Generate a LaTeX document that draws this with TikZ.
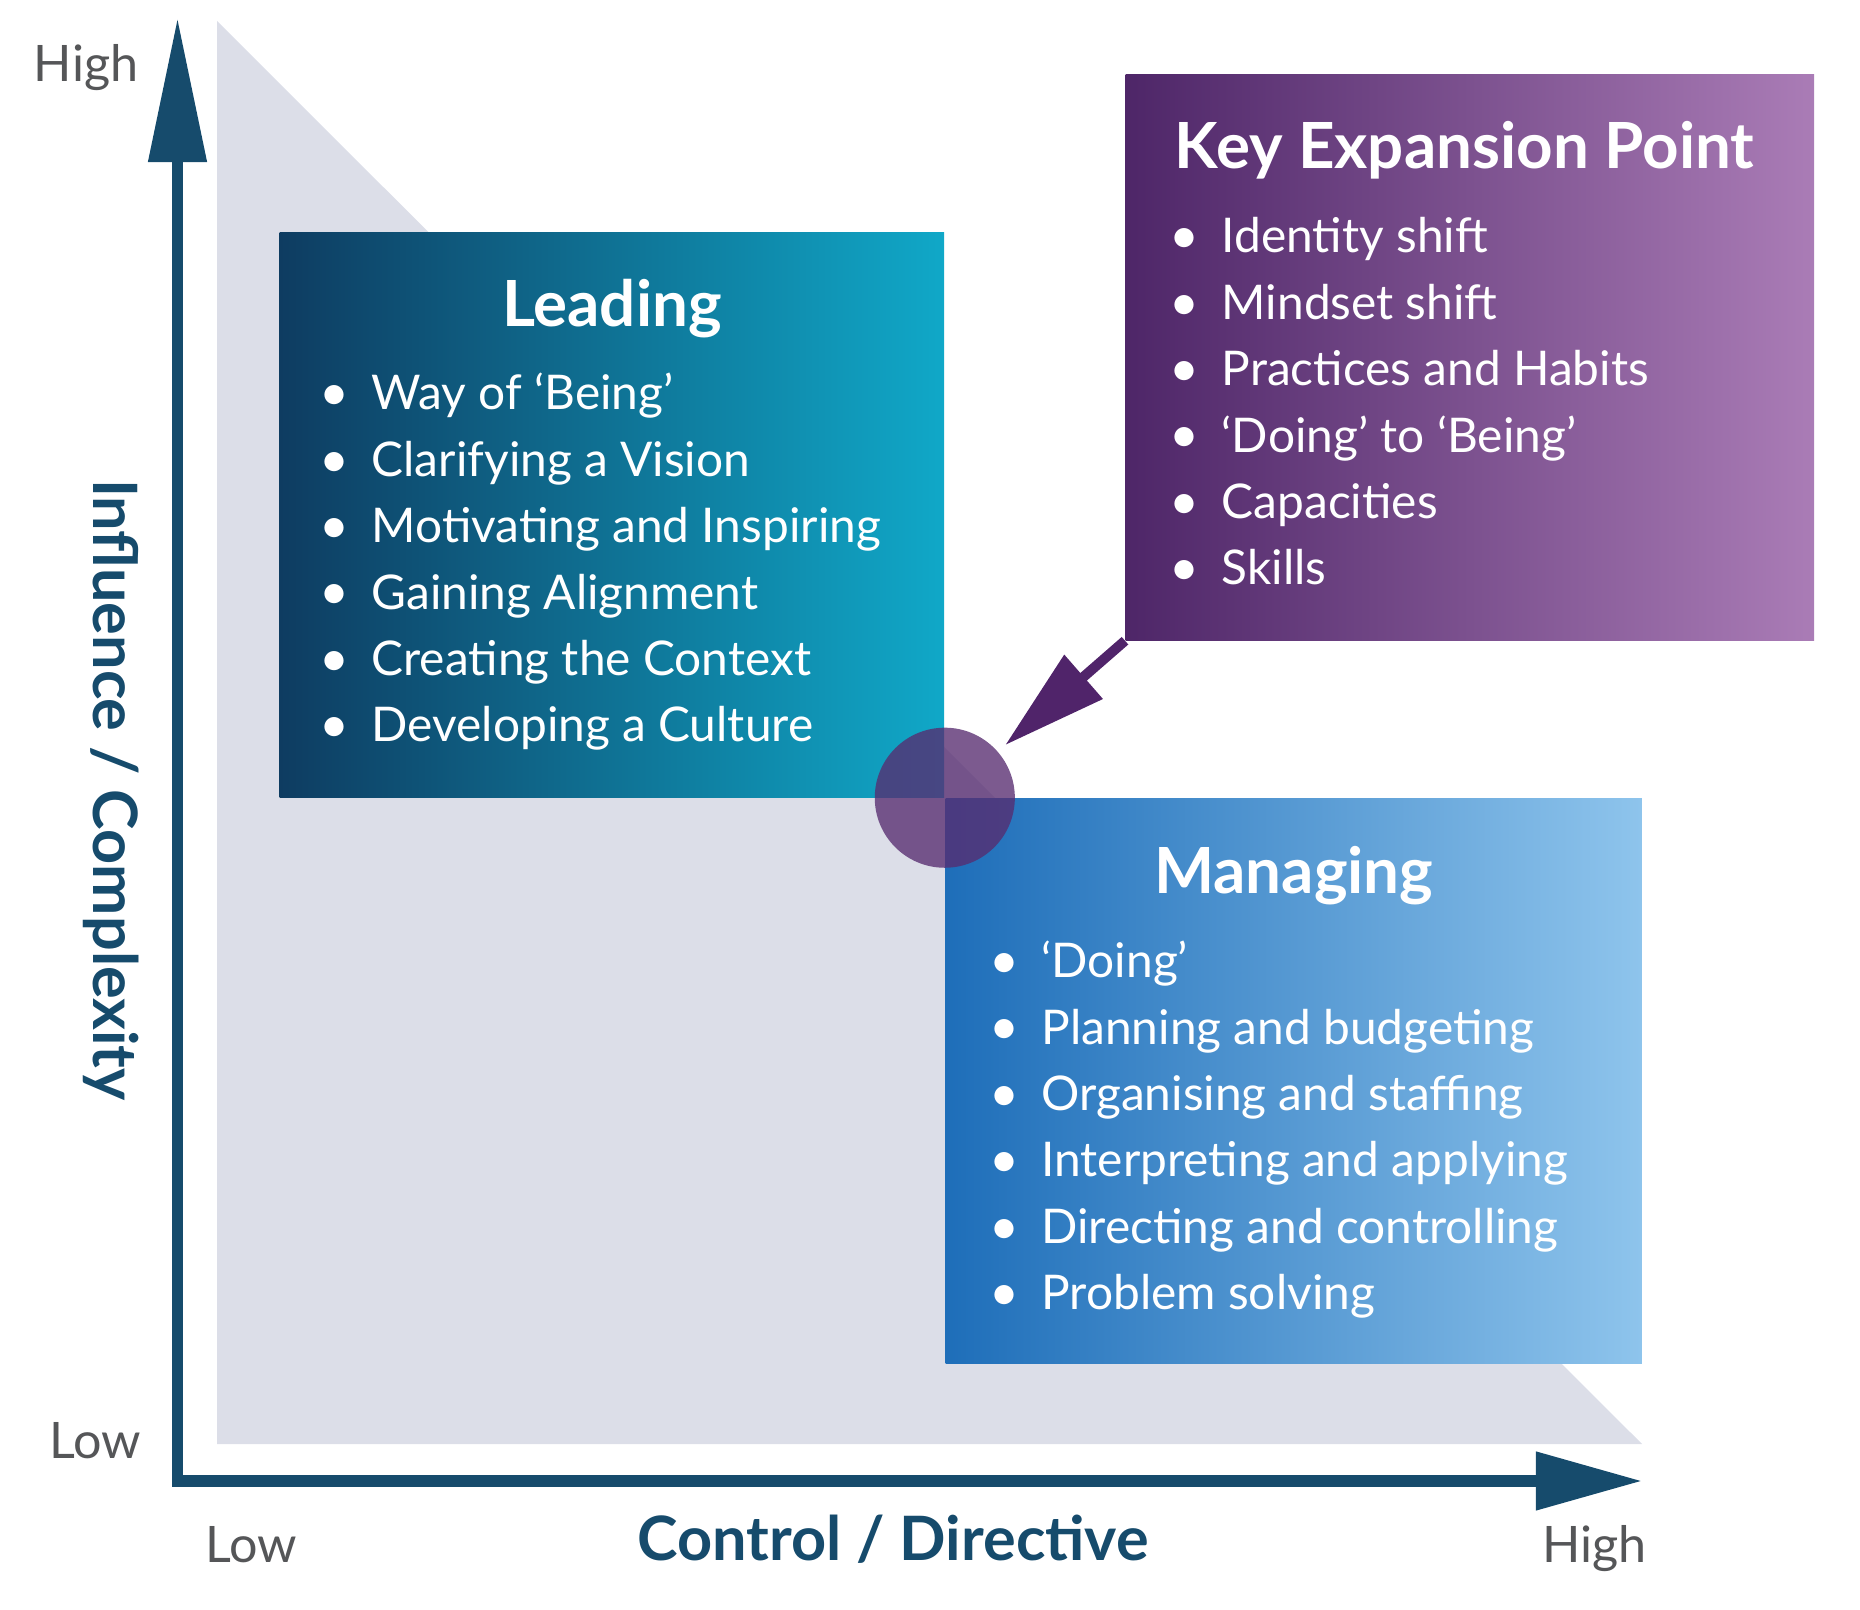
\documentclass[tikz,border=0pt]{standalone}
\usepackage{fontspec}
\setmainfont{Lato}
\usetikzlibrary{arrows.meta,calc,positioning}

\definecolor{axisblue}{RGB}{22,75,108}
\definecolor{backdrop}{RGB}{220,222,232}
\definecolor{scalegray}{RGB}{85,86,88}
\definecolor{leadL}{RGB}{14,60,97}
\definecolor{leadR}{RGB}{16,168,200}
\definecolor{keyL}{RGB}{78,38,104}
\definecolor{keyR}{RGB}{170,124,182}
\definecolor{manL}{RGB}{30,110,185}
\definecolor{manR}{RGB}{142,196,236}
\definecolor{pointerpurple}{RGB}{80,36,106}
\definecolor{hubpurple}{RGB}{87,44,112}

\newcommand{\itemdot}{\makebox[0.47cm][l]{\hspace{-0.05cm}\raisebox{-0.2pt}{\scalebox{1.08}{\textbullet}}}}

\begin{document}
\begin{tikzpicture}[x=0.01cm, y=-0.01cm,
    panel/.style={anchor=north west, inner sep=0, minimum width=#1, minimum height=5.65cm},
    title/.style={text=white, inner sep=0, font=\fontsize{18.1}{21}\selectfont\bfseries},
    item/.style={text=white, inner sep=0, anchor=base west, font=\fontsize{13.6}{16}\selectfont},
    scalelabel/.style={text=scalegray, inner sep=0, font=\fontsize{14.3}{17}\selectfont},
    axislabel/.style={text=axisblue, inner sep=0, anchor=base, font=\fontsize{17.4}{20}\selectfont\bfseries},
    axisline/.style={draw=axisblue, line width=0.11cm, line join=miter},
    hubstyle/.style={circle, inner sep=0, outer sep=0, minimum size=1.4cm, fill=hubpurple, fill opacity=0.78},
    pointer/.style={draw=pointerpurple, line width=0.1cm, -{Triangle[length=1.04cm,width=0.56cm]}, shorten >=0.1cm}]
  \useasboundingbox (0,0) rectangle (1860,1610);

  % backdrop triangle
  \fill[backdrop] (217,21) -- (217,1444) -- (1642,1444) -- cycle;

  % axes
  \coordinate (ytip) at (177.5,18);
  \coordinate (xtip) at (1642,1481);
  \draw[axisline, {Triangle[length=1.44cm,width=0.56cm]}-{Triangle[length=1.06cm,width=0.56cm]}] (ytip) |- (xtip);

  \node[scalelabel, anchor=base east] (yhigh) at (139,82) {High};
  \node[scalelabel, anchor=base east] (ylow) at (142,1458) {Low};
  \node[scalelabel, anchor=base west] (xlow) at (205,1562) {Low};
  \node[scalelabel, anchor=base east] (xhigh) at (1647,1562) {High};
  \node[axislabel] (xlabel) at (893,1560) {Control / Directive};
  \node[axislabel, rotate=-90] (ylabel) at (93,790) {Influence / Complexity};

  % panels
  \node[panel=6.64cm, minimum height=5.64cm, left color=leadL, right color=leadR] (lead) at (279,232) {};
  \node[panel=6.88cm, left color=keyL, right color=keyR] (key) at (1125,74) {};
  \node[panel=6.96cm, left color=manL, right color=manR] (man) at (lead.south east) {};

  \node[title, anchor=base] (lead-title) at ($(lead.north)+(0,95)$) {Leading};
  \node[title, anchor=base west] (key-title) at ($(key.north west)+(49,95)$) {Key Expansion Point};
  \node[title, anchor=base] (man-title) at ($(man.north)+(0,96)$) {Managing};

  \foreach \txt [count=\i] in {Way of ‘Being’, Clarifying a Vision, Motivating and Inspiring,
      Gaining Alignment, Creating the Context, Developing a Culture}
    \node[item] (lead-\i) at ($(lead.north west)+(45,178+66.4*\i-66.4)$) {\itemdot\txt};
  \foreach \txt [count=\i] in {Identity shift, Mindset shift, Practices and Habits,
      ‘Doing’ to ‘Being’, Capacities, Skills}
    \node[item] (key-\i) at ($(key.north west)+(49,179+66.4*\i-66.4)$) {\itemdot\txt};
  \foreach \txt [count=\i] in {‘Doing’, Planning and budgeting, Organising and staffing,
      Interpreting and applying, Directing and controlling, Problem solving}
    \node[item] (man-\i) at ($(man.north west)+(49,180+66.4*\i-66.4)$) {\itemdot\txt};

  % expansion point
  \node[hubstyle] (hub) at (lead.south east) {};
  \draw[pointer] (key.south west) -- (hub);
\end{tikzpicture}
\end{document}
